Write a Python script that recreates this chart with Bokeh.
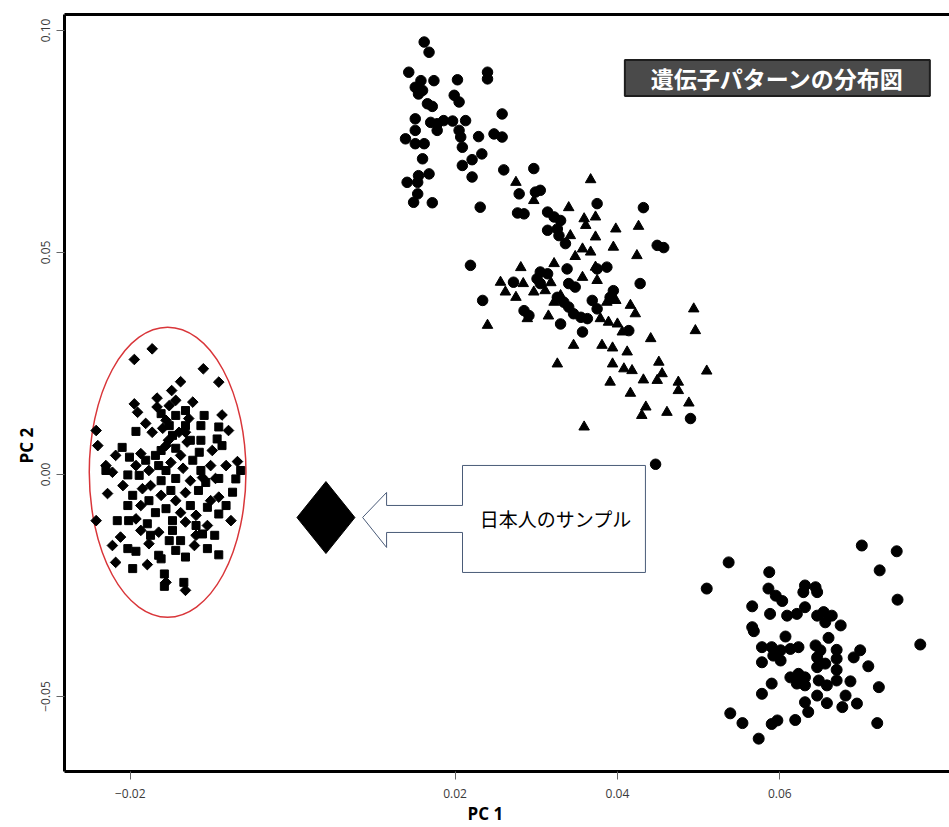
import numpy as np
from bokeh.plotting import figure
from bokeh.models import (Range1d, FixedTicker, LinearAxis, Label, NumeralTickFormatter, Title)
from bokeh.embed import file_html
from bokeh.resources import INLINE

# ---------------- data (PC1, PC2) ----------------
group_a_diamond_x = [-0.0173, -0.0195, -0.0110, -0.0091, -0.0138, -0.0149, -0.0167, -0.0195, -0.0123, -0.0191,
                     -0.0167, -0.0087, -0.0181, -0.0128, -0.0242, -0.0173, -0.0132, -0.0240, -0.0218, -0.0187,
                     -0.0156, -0.0130, -0.0099, -0.0068, -0.0230, -0.0222, -0.0228, -0.0091, -0.0185, -0.0242,
                     -0.0193, -0.0165, -0.0132, -0.0212, -0.0222, -0.0177, -0.0121, -0.0218, -0.0179, -0.0156,
                     -0.0132, -0.0156, -0.0140, -0.0153, -0.0138, -0.0150, -0.0177, -0.0135, -0.0101, -0.0126,
                     -0.0175, -0.0095, -0.0132, -0.0162, -0.0144, -0.0101, -0.0138, -0.0119, -0.0187, -0.0111,
                     -0.0082, -0.0144, -0.0152, -0.0160, -0.0193, -0.0119, -0.0187, -0.0105, -0.0076, -0.0209, -0.0079]
group_a_diamond_y = [0.0283, 0.0259, 0.0238, 0.0208, 0.0209, 0.0189, 0.0172, 0.0159, 0.0163, 0.0140,
                     0.0152, 0.0134, 0.0115, 0.0126, 0.0099, 0.0095, 0.0095, 0.0065, 0.0043, 0.0047,
                     0.0065, 0.0073, 0.0054, 0.0029, 0.0020, 0.0005, -0.0043, -0.0051, -0.0032, -0.0104,
                     -0.0100, -0.0130, -0.0107, -0.0141, -0.0160, -0.0156, -0.0160, -0.0198, -0.0203, -0.0243,
                     -0.0261, 0.0122, 0.0095, 0.0077, 0.0043, 0.0027, 0.0009, 0.0014, 0.0020, -0.0014,
                     -0.0025, -0.0009, -0.0041, -0.0047, -0.0059, -0.0059, -0.0086, -0.0092, -0.0070, -0.0007,
                     0.0020, 0.0167, 0.0155, 0.0104, 0.0020, -0.0137, -0.0126, -0.0115, -0.0104, -0.0025, 0.0099]

group_a_square_x = [-0.0162, -0.0109, -0.0152, -0.0091, -0.0193, -0.0148, -0.0093, -0.0210, -0.0201, -0.0169,
                    -0.0144, -0.0115, -0.0087, -0.0230, -0.0203, -0.0189, -0.0070, -0.0074, -0.0197, -0.0203,
                    -0.0105, -0.0091, -0.0216, -0.0179, -0.0148, -0.0119, -0.0111, -0.0203, -0.0193, -0.0152,
                    -0.0105, -0.0091, -0.0132, -0.0165, -0.0162, -0.0197, -0.0158, -0.0134, -0.0158, -0.0144,
                    -0.0132, -0.0126, -0.0162, -0.0123, -0.0165, -0.0156, -0.0113, -0.0144, -0.0162, -0.0107,
                    -0.0150, -0.0116, -0.0177, -0.0126, -0.0156, -0.0169, -0.0148, -0.0082, -0.0091, -0.0113,
                    -0.0132, -0.0113, -0.0181, -0.0138, -0.0175, -0.0144, -0.0096, -0.0202, -0.0064]
group_a_square_y = [0.0137, 0.0133, 0.0110, 0.0107, 0.0097, 0.0088, 0.0080, 0.0061, 0.0039, 0.0043,
                    0.0059, 0.0050, 0.0065, 0.0009, -0.0001, -0.0002, -0.0010, -0.0040, -0.0047, -0.0070,
                    -0.0074, -0.0089, -0.0104, -0.0111, -0.0126, -0.0115, -0.0134, -0.0167, -0.0173, -0.0149,
                    -0.0167, -0.0181, -0.0186, -0.0182, -0.0190, -0.0212, -0.0224, -0.0243, -0.0252, 0.0133,
                    0.0110, 0.0077, 0.0054, 0.0032, 0.0020, 0.0009, 0.0009, -0.0009, -0.0014, -0.0018,
                    -0.0036, -0.0036, -0.0059, -0.0070, -0.0077, -0.0086, -0.0104, -0.0070, -0.0009, 0.0077,
                    0.0144, 0.0110, 0.0032, -0.0149, -0.0137, -0.0171, -0.0137, -0.0104, 0.0009]

group_b_circle_x = [0.0162, 0.0168, 0.0143, 0.0158, 0.0174, 0.0151, 0.0160, 0.0155, 0.0203, 0.0240,
                    0.0240, 0.0199, 0.0205, 0.0166, 0.0172, 0.0258, 0.0151, 0.0170, 0.0178, 0.0186,
                    0.0197, 0.0213, 0.0178, 0.0151, 0.0205, 0.0207, 0.0229, 0.0248, 0.0258, 0.0139,
                    0.0151, 0.0162, 0.0209, 0.0233, 0.0221, 0.0209, 0.0160, 0.0260, 0.0168, 0.0155,
                    0.0154, 0.0141, 0.0221, 0.0154, 0.0149, 0.0172, 0.0231]
group_b_circle_y = [0.0974, 0.0951, 0.0906, 0.0887, 0.0887, 0.0872, 0.0865, 0.0857, 0.0889, 0.0906,
                    0.0891, 0.0854, 0.0839, 0.0835, 0.0829, 0.0812, 0.0801, 0.0793, 0.0790, 0.0797,
                    0.0796, 0.0797, 0.0775, 0.0775, 0.0775, 0.0760, 0.0761, 0.0767, 0.0760, 0.0756,
                    0.0745, 0.0745, 0.0737, 0.0722, 0.0709, 0.0696, 0.0711, 0.0686, 0.0677, 0.0673,
                    0.0658, 0.0658, 0.0670, 0.0632, 0.0613, 0.0612, 0.0602]

group_c_circle_x = [0.0297, 0.0279, 0.0305, 0.0299, 0.0277, 0.0285, 0.0314, 0.0322, 0.0330, 0.0375,
                    0.0432, 0.0314, 0.0326, 0.0328, 0.0336, 0.0449, 0.0457, 0.0219, 0.0305, 0.0314,
                    0.0338, 0.0375, 0.0387, 0.0272, 0.0301, 0.0305, 0.0340, 0.0348, 0.0428, 0.0395,
                    0.0391, 0.0234, 0.0326, 0.0334, 0.0340, 0.0369, 0.0375, 0.0285, 0.0291, 0.0330,
                    0.0346, 0.0355, 0.0363, 0.0357, 0.0414, 0.0490, 0.0447]
group_c_circle_y = [0.0689, 0.0632, 0.0640, 0.0636, 0.0589, 0.0587, 0.0591, 0.0580, 0.0572, 0.0610,
                    0.0601, 0.0550, 0.0553, 0.0538, 0.0520, 0.0516, 0.0511, 0.0471, 0.0456, 0.0452,
                    0.0463, 0.0463, 0.0467, 0.0433, 0.0441, 0.0430, 0.0430, 0.0422, 0.0430, 0.0414,
                    0.0399, 0.0392, 0.0399, 0.0388, 0.0377, 0.0392, 0.0373, 0.0369, 0.0358, 0.0339,
                    0.0362, 0.0354, 0.0351, 0.0321, 0.0324, 0.0126, 0.0023]

group_c_triangle_x = [0.0275, 0.0367, 0.0297, 0.0340, 0.0359, 0.0373, 0.0361, 0.0398, 0.0426, 0.0373,
                      0.0342, 0.0395, 0.0357, 0.0367, 0.0348, 0.0424, 0.0281, 0.0322, 0.0256, 0.0262,
                      0.0275, 0.0297, 0.0357, 0.0375, 0.0373, 0.0322, 0.0387, 0.0398, 0.0416, 0.0422,
                      0.0315, 0.0240, 0.0289, 0.0379, 0.0389, 0.0400, 0.0406, 0.0494, 0.0496, 0.0441,
                      0.0346, 0.0381, 0.0394, 0.0412, 0.0326, 0.0394, 0.0408, 0.0418, 0.0451, 0.0510,
                      0.0391, 0.0432, 0.0449, 0.0455, 0.0475, 0.0475, 0.0416, 0.0488, 0.0435, 0.0430,
                      0.0461, 0.0359, 0.0284, 0.0311, 0.0330, 0.0318]
group_c_triangle_y = [0.0658, 0.0664, 0.0617, 0.0601, 0.0576, 0.0580, 0.0561, 0.0553, 0.0559, 0.0535,
                      0.0538, 0.0512, 0.0508, 0.0501, 0.0491, 0.0493, 0.0466, 0.0475, 0.0433, 0.0411,
                      0.0399, 0.0411, 0.0444, 0.0437, 0.0467, 0.0388, 0.0388, 0.0392, 0.0381, 0.0362,
                      0.0357, 0.0336, 0.0351, 0.0351, 0.0343, 0.0339, 0.0321, 0.0373, 0.0324, 0.0306,
                      0.0291, 0.0291, 0.0285, 0.0276, 0.0249, 0.0249, 0.0238, 0.0234, 0.0253, 0.0233,
                      0.0208, 0.0213, 0.0212, 0.0227, 0.0208, 0.0189, 0.0183, 0.0161, 0.0152, 0.0133,
                      0.0140, 0.0107, 0.0430, 0.0414, 0.0403, 0.0432]

group_d_circle_x = [0.0701, 0.0744, 0.0537, 0.0723, 0.0587, 0.0510, 0.0745, 0.0586, 0.0595, 0.0603,
                    0.0631, 0.0644, 0.0629, 0.0646, 0.0566, 0.0588, 0.0609, 0.0621, 0.0631, 0.0646,
                    0.0654, 0.0664, 0.0656, 0.0675, 0.0566, 0.0568, 0.0607, 0.0660, 0.0773, 0.0578,
                    0.0590, 0.0601, 0.0613, 0.0623, 0.0644, 0.0650, 0.0670, 0.0699, 0.0691, 0.0578,
                    0.0592, 0.0601, 0.0646, 0.0646, 0.0656, 0.0670, 0.0670, 0.0709, 0.0613, 0.0623,
                    0.0631, 0.0621, 0.0631, 0.0648, 0.0658, 0.0670, 0.0687, 0.0590, 0.0578, 0.0722,
                    0.0646, 0.0681, 0.0631, 0.0658, 0.0677, 0.0695, 0.0635, 0.0539, 0.0554, 0.0590,
                    0.0597, 0.0619, 0.0720, 0.0574]
group_d_circle_y = [-0.0160, -0.0173, -0.0198, -0.0216, -0.0220, -0.0257, -0.0282, -0.0257, -0.0273, -0.0285,
                    -0.0250, -0.0254, -0.0265, -0.0265, -0.0297, -0.0314, -0.0318, -0.0314, -0.0299, -0.0318,
                    -0.0310, -0.0318, -0.0333, -0.0340, -0.0344, -0.0353, -0.0365, -0.0368, -0.0383, -0.0389,
                    -0.0389, -0.0396, -0.0393, -0.0389, -0.0385, -0.0396, -0.0395, -0.0396, -0.0412, -0.0423,
                    -0.0408, -0.0419, -0.0412, -0.0434, -0.0426, -0.0415, -0.0440, -0.0432, -0.0457, -0.0449,
                    -0.0457, -0.0471, -0.0475, -0.0464, -0.0475, -0.0464, -0.0466, -0.0471, -0.0494, -0.0479,
                    -0.0498, -0.0498, -0.0513, -0.0515, -0.0524, -0.0516, -0.0535, -0.0538, -0.0560, -0.0562,
                    -0.0554, -0.0553, -0.0560, -0.0595]

japan_sample_x = [0.0041]
japan_sample_y = [-0.0097]

x_ticks = [-0.02, 0.02, 0.04, 0.06]
y_ticks = [-0.05, 0.0, 0.05, 0.10]
x_tick_labels = {-0.02: "\u22120.02", 0.02: "0.02", 0.04: "0.04", 0.06: "0.06"}
y_tick_labels = {-0.05: "\u22120.05", 0.0: "0.00", 0.05: "0.05", 0.10: "0.10"}

title_text = "遺伝子パターンの分布図"
callout_text = "日本人のサンプル"
x_label = "PC 1"
y_label = "PC 2"

# ---------------- figure ----------------
p = figure(width=949, height=827, output_backend="svg", toolbar_location=None,
           x_range=Range1d(-0.0281, 0.0809), y_range=Range1d(-0.0669, 0.1036),
           x_axis_type=None, y_axis_type=None,
           min_border_left=64, min_border_right=0, min_border_top=14, min_border_bottom=56)
p.outline_line_color = None
p.grid.visible = False
p.background_fill_color = "white"
p.border_fill_color = "white"

def style_axis(ax):
    ax.axis_line_color = "black"
    ax.axis_line_width = 3
    ax.major_tick_line_color = "#666666"
    ax.major_tick_line_width = 1
    ax.major_tick_in = 0
    ax.major_tick_out = 8
    ax.minor_tick_line_color = None
    ax.major_label_text_font = "Open Sans"
    ax.major_label_text_font_size = "12px"
    ax.major_label_text_color = "#3a3a3a"

xaxis = LinearAxis(ticker=FixedTicker(ticks=x_ticks), formatter=NumeralTickFormatter(format="0.00"),
                   major_label_overrides=x_tick_labels)
style_axis(xaxis)
xaxis.major_label_standoff = 9
p.add_layout(xaxis, "below")

yaxis = LinearAxis(ticker=FixedTicker(ticks=y_ticks), formatter=NumeralTickFormatter(format="0.00"),
                   major_label_overrides=y_tick_labels)
style_axis(yaxis)
yaxis.major_label_orientation = "vertical"
yaxis.major_label_standoff = 6
p.add_layout(yaxis, "left")

top_axis = LinearAxis(ticker=FixedTicker(ticks=[]))
top_axis.axis_line_width = 3
top_axis.major_tick_out = 0
top_axis.major_tick_in = 0
top_axis.minor_tick_line_color = None
top_axis.major_label_standoff = 0
top_axis.major_label_text_font_size = "0px"
p.add_layout(top_axis, "above")

# axis titles (placed off-centre as in the original)
p.add_layout(Title(text=x_label, align="left", offset=403, standoff=0, vertical_align="middle",
                   text_font="Open Sans", text_font_size="17px", text_font_style="bold",
                   text_color="black"), "below")
p.add_layout(Title(text=y_label, align="left", offset=308, standoff=0, vertical_align="middle",
                   text_font="Open Sans", text_font_size="17px", text_font_style="bold",
                   text_color="black"), "left")

# ellipse around group A
p.ellipse(x=[-0.0154], y=[0.0005], width=0.0193, height=0.0653,
          fill_color=None, line_color="#d9363a", line_width=1.5)

# points
p.scatter(group_a_diamond_x, group_a_diamond_y, marker="square", angle=np.pi / 4, size=7.5,
          fill_color="black", line_color="black")
p.scatter(group_a_square_x, group_a_square_y, marker="square", size=8,
          fill_color="black", line_color="black")
p.scatter(group_b_circle_x, group_b_circle_y, marker="circle", size=10.5,
          fill_color="black", line_color="black")
p.scatter(group_c_circle_x, group_c_circle_y, marker="circle", size=10.5,
          fill_color="black", line_color="black")
p.scatter(group_c_triangle_x, group_c_triangle_y, marker="triangle", size=10.5,
          fill_color="black", line_color="black")
p.scatter(group_d_circle_x, group_d_circle_y, marker="circle", size=11,
          fill_color="black", line_color="black")

# Japanese sample: large diamond
half_w, half_h = 0.00357, 0.00811
jx, jy = japan_sample_x[0], japan_sample_y[0]
p.patch([jx - half_w, jx, jx + half_w, jx], [jy, jy + half_h, jy, jy - half_h],
        fill_color="black", line_color="black")

# callout box with left arrow
cx = [0.02092, 0.04345, 0.04345, 0.02092, 0.02092, 0.01157, 0.01157, 0.00862, 0.01157, 0.01157, 0.02092]
cy = [0.00203, 0.00203, -0.02207, -0.02207, -0.01306, -0.01306, -0.01644, -0.00968, -0.00405, -0.00698, -0.00698]
p.patch(cx, cy, fill_color="white", line_color="#4a5b78", line_width=1)
p.add_layout(Label(x=0.0324, y=-0.0099, text=callout_text, text_align="center", text_baseline="middle",
                   text_font="Noto Sans CJK JP", text_font_size="19px", text_color="black"))

# title box
p.add_layout(Label(x=0.0597, y=0.0893, text=title_text, text_align="center", text_baseline="middle",
                   text_font="Noto Sans CJK JP", text_font_size="23px", text_font_style="bold",
                   text_color="white", background_fill_color="#4a4a4a", border_line_color="#1e1e1e",
                   border_line_width=2, padding=(26, 1)))

open("out.html", "w").write(file_html(p, INLINE))
